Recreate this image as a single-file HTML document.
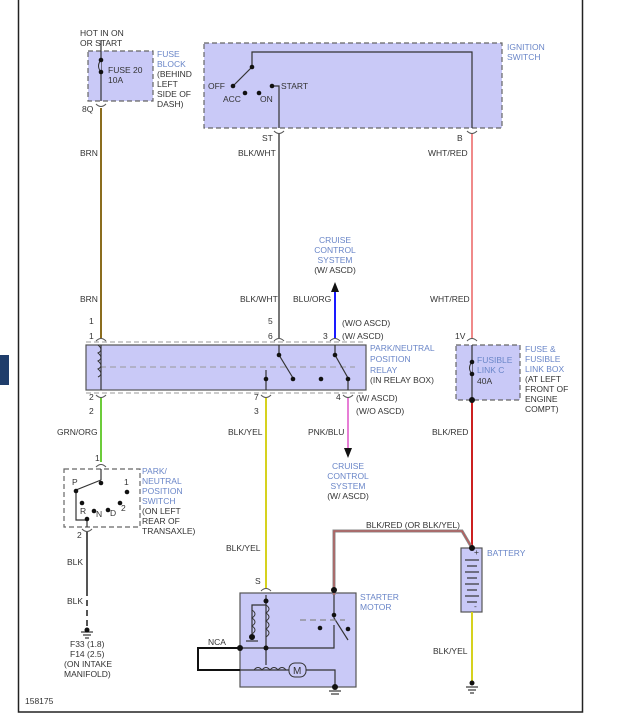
<!DOCTYPE html>
<html><head><style>
html,body{margin:0;padding:0;background:#fff;width:617px;height:728px;overflow:hidden}
svg{display:block}
text{font-family:"Liberation Sans",sans-serif;font-size:8.5px;fill:#333}
.b{fill:#6a86c8}
</style></head><body>
<svg width="617" height="728" viewBox="0 0 617 728">
<rect x="0" y="355" width="9" height="30" fill="#1f3d6b"/>
<rect x="18.5" y="-2" width="564" height="714" fill="none" stroke="#222" stroke-width="1.5"/>
<g stroke="#666" stroke-width="1.2" stroke-dasharray="5,3" fill="#c9c9f7">
<rect x="88" y="51" width="65" height="50"/>
<rect x="204" y="43" width="298" height="85"/>
<rect x="456" y="345" width="64" height="55"/>
<rect x="64" y="469" width="76" height="58" fill="none"/>
</g>
<rect x="86" y="345" width="280" height="45" fill="#c9c9f7" stroke="#555" stroke-width="1.2"/>
<line x1="86" y1="342" x2="366" y2="342" stroke="#999" stroke-dasharray="5,3"/>
<line x1="86" y1="393" x2="366" y2="393" stroke="#999" stroke-dasharray="5,3"/>
<line x1="100" y1="367" x2="355" y2="367" stroke="#999" stroke-dasharray="6,4"/>
<rect x="240" y="593" width="116" height="94" fill="#c9c9f7" stroke="#555" stroke-width="1.2"/>
<rect x="461" y="548" width="21" height="64" fill="#c9c9f7" stroke="#555" stroke-width="1.2"/>
<g fill="none" stroke-width="2">
<line x1="101" y1="108" x2="101" y2="338" stroke="#8b6d1e"/>
<line x1="279" y1="133" x2="279" y2="338" stroke="#777"/>
<line x1="472" y1="133" x2="472" y2="338" stroke="#f08a8a"/>
<line x1="335" y1="290" x2="335" y2="338" stroke="#1a1aff"/>
<line x1="101" y1="398" x2="101" y2="462" stroke="#6ccc3a"/>
<line x1="266" y1="398" x2="266" y2="588" stroke="#d6d21e"/>
<line x1="348" y1="398" x2="348" y2="448" stroke="#e77ed6"/>
<line x1="87" y1="532" x2="87" y2="590" stroke="#555"/>
<line x1="87" y1="590" x2="87" y2="628" stroke="#555" stroke-dasharray="6,4"/>
<line x1="472" y1="400" x2="472" y2="548" stroke="#cc2020"/>
<polyline points="334,595 334,531 462,531 472,548" stroke="#888" stroke-width="3"/>
<polyline points="334,595 334,531 462,531 472,548" stroke="#c85050" stroke-width="1"/>
<line x1="472" y1="612" x2="472" y2="683" stroke="#d6d21e"/>
<polyline points="240,648 198,648 198,670 240,670" stroke="#111"/>
</g>
<g fill="none" stroke="#555" stroke-width="1">
<path d="M96,104 q5,5 10,0"/><path d="M274,131 q5,5 10,0"/><path d="M467,131 q5,5 10,0"/>
<path d="M96,341 q5,-5 10,0"/><path d="M274,341 q5,-5 10,0"/><path d="M330,341 q5,-5 10,0"/><path d="M467,341 q5,-5 10,0"/>
<path d="M96,395 q5,5 10,0"/><path d="M261,395 q5,5 10,0"/><path d="M343,395 q5,5 10,0"/>
<path d="M96,467 q5,-5 10,0"/><path d="M82,529 q5,5 10,0"/><path d="M261,591 q5,-5 10,0"/>
</g>
<g fill="none" stroke="#333" stroke-width="1.2">
<line x1="101" y1="40" x2="101" y2="101"/>
<polyline points="252,67 252,52 472,52 472,128"/>
<line x1="252" y1="67" x2="233" y2="86"/>
<polyline points="272,86 279,86 279,128"/>
<line x1="101" y1="345" x2="101" y2="390"/>
<polyline points="279,345 279,355 293,378"/>
<polyline points="335,345 335,355 348,378 348,390"/>
<polyline points="266,370 266,390"/>
<line x1="101" y1="469" x2="101" y2="480"/>
<polyline points="101,480 76,490 76,520 87,520 87,527"/>
<line x1="472" y1="345" x2="472" y2="400"/>
<polyline points="266,595 266,665"/>
<polyline points="266,605 252,605 252,640"/>
<polyline points="334,595 334,618 348,640"/>
<polyline points="240,648 334,648 334,625"/>
<polyline points="240,670 290,670"/>
<polyline points="305,670 335,670 335,687"/>
<line x1="300" y1="620" x2="345" y2="620" stroke="#888" stroke-dasharray="6,4"/>
</g>
<path d="M98,345 q6,5 0,8 q6,5 0,8 q6,5 0,8 q6,5 0,8" fill="none" stroke="#333"/>
<path d="M266,605 q6,4 0,8 q6,4 0,8 q6,4 0,8 q6,4 0,8" fill="none" stroke="#333"/>
<path d="M252,610 q6,4 0,8 q6,4 0,8 q6,4 0,8" fill="none" stroke="#333"/>
<path d="M254,670 q4,-5 8,0 q4,-5 8,0 q4,-5 8,0 q4,-5 8,0" fill="none" stroke="#333"/>
<rect x="289" y="663" width="17" height="14" rx="6" fill="#c9c9f7" stroke="#333"/>
<text x="293" y="674" style="font-size:10px">M</text>
<path d="M101,60 q-5,6 0,12" fill="#c9c9f7" stroke="#333"/>
<path d="M472,362 q-5,6 0,12" fill="#c9c9f7" stroke="#333"/>
<g fill="#111">
<circle cx="101" cy="60" r="2.3"/><circle cx="101" cy="72" r="2.3"/>
<circle cx="252" cy="67" r="2.3"/><circle cx="233" cy="86" r="2.3"/><circle cx="245" cy="93" r="2.3"/><circle cx="259" cy="93" r="2.3"/><circle cx="272" cy="86" r="2.3"/>
<circle cx="279" cy="355" r="2.3"/><circle cx="293" cy="379" r="2.3"/><circle cx="321" cy="379" r="2.3"/><circle cx="335" cy="355" r="2.3"/><circle cx="348" cy="379" r="2.3"/><circle cx="266" cy="379" r="2.3"/>
<circle cx="101" cy="483" r="2.3"/><circle cx="76" cy="491" r="2.3"/><circle cx="127" cy="492" r="2.3"/><circle cx="82" cy="503" r="2.3"/><circle cx="94" cy="511" r="2.3"/><circle cx="108" cy="510" r="2.3"/><circle cx="120" cy="503" r="2.3"/><circle cx="87" cy="519" r="2.3"/>
<circle cx="472" cy="362" r="2.3"/><circle cx="472" cy="374" r="2.3"/><circle cx="472" cy="400" r="3"/><circle cx="472" cy="548" r="3"/><circle cx="472" cy="683" r="2.5"/>
<circle cx="334" cy="590" r="3"/><circle cx="334" cy="615" r="2.3"/><circle cx="348" cy="629" r="2.3"/><circle cx="266" cy="601" r="2.5"/><circle cx="320" cy="628" r="2.3"/><circle cx="266" cy="648" r="2.5"/><circle cx="240" cy="648" r="3"/><circle cx="335" cy="687" r="3"/><circle cx="252" cy="637" r="3"/>
</g>
<polygon points="335,282 331,292 339,292" fill="#111"/>
<polygon points="348,458 344,448 352,448" fill="#111"/>
<g stroke="#333" stroke-width="1.2">
<line x1="81" y1="632" x2="93" y2="632"/><line x1="83" y1="635" x2="91" y2="635"/><line x1="85" y1="638" x2="89" y2="638"/>
<line x1="466" y1="687" x2="478" y2="687"/><line x1="468" y1="690" x2="476" y2="690"/><line x1="470" y1="693" x2="474" y2="693"/>
<line x1="329" y1="691" x2="341" y2="691"/><line x1="331" y1="694" x2="339" y2="694"/>
<line x1="246" y1="641" x2="258" y2="641"/>
<line x1="465" y1="560" x2="479" y2="560"/><line x1="467" y1="566" x2="477" y2="566"/><line x1="465" y1="572" x2="479" y2="572"/><line x1="467" y1="578" x2="477" y2="578"/><line x1="465" y1="584" x2="479" y2="584"/><line x1="467" y1="590" x2="477" y2="590"/><line x1="465" y1="596" x2="479" y2="596"/><line x1="467" y1="602" x2="477" y2="602"/>
</g>
<circle cx="87" cy="630" r="2.5" fill="#111"/>
<text x="80" y="36">HOT IN ON</text><text x="80" y="46">OR START</text>
<text x="108" y="73">FUSE 20</text><text x="108" y="83">10A</text>
<text class="b" x="157" y="57">FUSE</text><text class="b" x="157" y="67">BLOCK</text><text x="157" y="77">(BEHIND</text><text x="157" y="87">LEFT</text><text x="157" y="97">SIDE OF</text><text x="157" y="107">DASH)</text>
<text x="82" y="112">8Q</text>
<text x="208" y="89">OFF</text><text x="223" y="102">ACC</text><text x="260" y="102">ON</text><text x="281" y="89">START</text>
<text class="b" x="507" y="50">IGNITION</text><text class="b" x="507" y="60">SWITCH</text>
<text x="262" y="141">ST</text><text x="457" y="141">B</text>
<text x="80" y="156">BRN</text><text x="238" y="156">BLK/WHT</text><text x="428" y="156">WHT/RED</text>
<text class="b" x="335" y="243" text-anchor="middle">CRUISE</text><text class="b" x="335" y="253" text-anchor="middle">CONTROL</text><text class="b" x="335" y="263" text-anchor="middle">SYSTEM</text><text x="335" y="273" text-anchor="middle">(W/ ASCD)</text>
<text x="80" y="302">BRN</text><text x="240" y="302">BLK/WHT</text><text x="293" y="302">BLU/ORG</text><text x="430" y="302">WHT/RED</text>
<text x="89" y="324">1</text><text x="89" y="339">1</text><text x="268" y="324">5</text><text x="268" y="339">6</text><text x="323" y="339">3</text>
<text x="342" y="326">(W/O ASCD)</text><text x="342" y="339">(W/ ASCD)</text>
<text class="b" x="370" y="351">PARK/NEUTRAL</text><text class="b" x="370" y="362">POSITION</text><text class="b" x="370" y="373">RELAY</text><text x="370" y="383">(IN RELAY BOX)</text>
<text x="89" y="400">2</text><text x="89" y="414">2</text><text x="254" y="400">7</text><text x="254" y="414">3</text><text x="336" y="400">4</text>
<text x="356" y="401">(W/ ASCD)</text><text x="356" y="414">(W/O ASCD)</text>
<text x="57" y="435">GRN/ORG</text><text x="228" y="435">BLK/YEL</text><text x="308" y="435">PNK/BLU</text><text x="432" y="435">BLK/RED</text>
<text class="b" x="348" y="469" text-anchor="middle">CRUISE</text><text class="b" x="348" y="479" text-anchor="middle">CONTROL</text><text class="b" x="348" y="489" text-anchor="middle">SYSTEM</text><text x="348" y="499" text-anchor="middle">(W/ ASCD)</text>
<text x="95" y="461">1</text>
<text x="72" y="485">P</text><text x="124" y="485">1</text><text x="80" y="514">R</text><text x="96" y="517">N</text><text x="110" y="516">D</text><text x="121" y="511">2</text>
<text class="b" x="142" y="474">PARK/</text><text class="b" x="142" y="484">NEUTRAL</text><text class="b" x="142" y="494">POSITION</text><text class="b" x="142" y="504">SWITCH</text><text x="142" y="514">(ON LEFT</text><text x="142" y="524">REAR OF</text><text x="142" y="534">TRANSAXLE)</text>
<text x="77" y="538">2</text><text x="67" y="565">BLK</text><text x="67" y="604">BLK</text>
<text x="70" y="647">F33 (1.8)</text><text x="70" y="657">F14 (2.5)</text><text x="64" y="667">(ON INTAKE</text><text x="64" y="677">MANIFOLD)</text>
<text x="366" y="528">BLK/RED (OR BLK/YEL)</text>
<text class="b" x="477" y="363">FUSIBLE</text><text class="b" x="477" y="373">LINK C</text><text x="477" y="384">40A</text>
<text class="b" x="525" y="352">FUSE &amp;</text><text class="b" x="525" y="362">FUSIBLE</text><text class="b" x="525" y="372">LINK BOX</text><text x="525" y="382">(AT LEFT</text><text x="525" y="392">FRONT OF</text><text x="525" y="402">ENGINE</text><text x="525" y="412">COMPT)</text>
<text x="455" y="339">1V</text>
<text x="474" y="555">+</text><text x="474" y="609">-</text>
<text class="b" x="487" y="556">BATTERY</text>
<text x="226" y="551">BLK/YEL</text><text x="255" y="584">S</text>
<text class="b" x="360" y="600">STARTER</text><text class="b" x="360" y="610">MOTOR</text>
<text x="208" y="645">NCA</text>
<text x="433" y="654">BLK/YEL</text>
<text x="25" y="704">158175</text>
</svg>
</body></html>
